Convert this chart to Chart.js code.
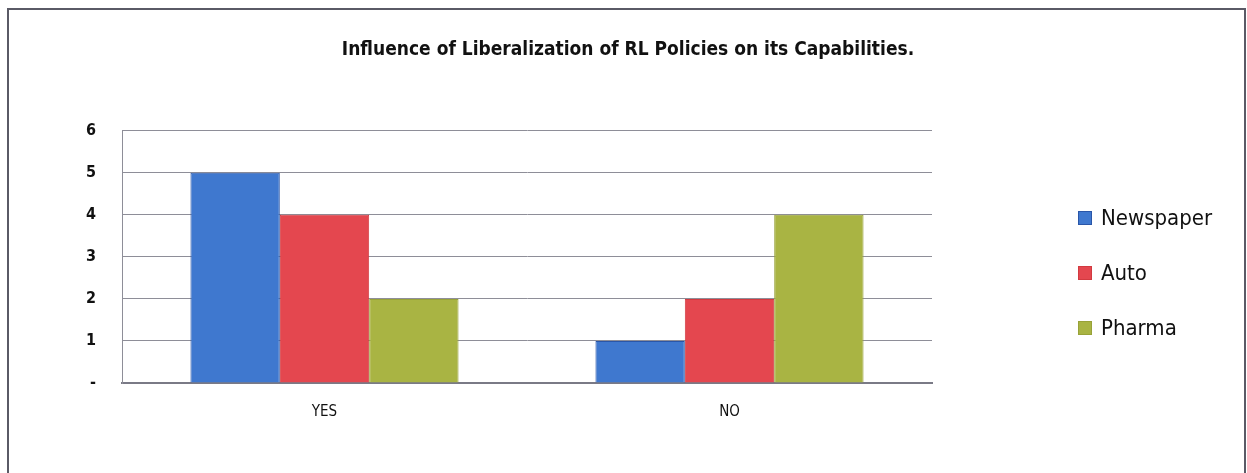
<!DOCTYPE html>
<html>
<head>
<meta charset="utf-8">
<script src="https://cdn.jsdelivr.net/npm/chart.js@4"></script>
<style>
  html, body { margin: 0; padding: 0; background: #ffffff; }
  #wrap { position: relative; width: 1247px; height: 473px; overflow: hidden; }
  #frame {
    position: absolute; left: 7px; top: 8px; width: 1239px; height: 480px;
    border: 2px solid #5a5a66; box-sizing: border-box;
  }
  canvas { position: absolute; left: 0; top: 0; }
</style>
</head>
<body>
<div id="wrap">
  <div id="frame"></div>
  <canvas id="chart" width="1247" height="473"></canvas>
</div>
<script>
// Survey responses: does liberalization of RL policies influence capabilities?
const categories = ['YES', 'NO'];
const newspaper = [5, 1];
const auto = [4, 2];
const pharma = [2, 4];
const yTicks = [0, 1, 2, 3, 4, 5, 6];

const seriesNames = ['Newspaper', 'Auto', 'Pharma'];
const fillColors = ['#3f78cf', '#e4474f', '#a9b443'];
const edgeColors = ['#2a56a8', '#d23a40', '#98a238'];

const FONT = "'Liberation Sans Narrow', 'DejaVu Sans Condensed', 'Open Sans', sans-serif";

// Legend drawn beside the plot, one swatch per dataset
const sideLegend = {
  id: 'sideLegend',
  afterDraw(chart) {
    const ctx = chart.ctx;
    const x0 = 1078, y0 = 218, step = 55, box = 14;
    ctx.save();
    ctx.font = "22px " + FONT;
    ctx.textBaseline = 'middle';
    chart.data.datasets.forEach((ds, i) => {
      const y = y0 + i * step;
      ctx.fillStyle = ds.backgroundColor;
      ctx.fillRect(x0, y - box / 2, box, box);
      ctx.strokeStyle = ds.borderColor;
      ctx.lineWidth = 1;
      ctx.strokeRect(x0 + 0.5, y - box / 2 + 0.5, box - 1, box - 1);
      ctx.fillStyle = '#111111';
      ctx.fillText(ds.label, x0 + 23, y + 1);
    });
    ctx.restore();
  }
};

const datasets = [newspaper, auto, pharma].map((vals, i) => ({
  label: seriesNames[i],
  data: vals,
  backgroundColor: fillColors[i],
  borderColor: edgeColors[i],
  borderWidth: 1,
  barPercentage: 1.0,
  categoryPercentage: 0.662
}));

new Chart(document.getElementById('chart'), {
  type: 'bar',
  data: { labels: categories, datasets },
  options: {
    responsive: false,
    animation: false,
    layout: { padding: { left: 9, right: 0, top: 39, bottom: 0 } },
    plugins: {
      legend: { display: false },
      tooltip: { enabled: false },
      title: {
        display: true,
        text: 'Influence of Liberalization of RL Policies on its Capabilities.',
        color: '#111111',
        font: { family: FONT, size: 19, weight: 'bold' },
        padding: { top: 0, bottom: 69 }
      }
    },
    scales: {
      x: {
        grid: { display: false, drawTicks: false },
        border: { display: true, color: '#7a7a86', width: 2 },
        ticks: {
          color: '#111111',
          font: { family: FONT, size: 15 },
          padding: 20
        },
        afterFit(scale) { scale.height = 90; }
      },
      y: {
        min: 0,
        max: 6,
        afterBuildTicks(scale) { scale.ticks = yTicks.map(v => ({ value: v })); },
        grid: { color: '#8e8e98', lineWidth: 1, drawTicks: false },
        border: { display: true, color: '#8e8e98', width: 1 },
        ticks: {
          color: '#111111',
          font: { family: FONT, size: 16, weight: 'bold' },
          padding: 26,
          callback: v => (v === 0 ? '-' : String(v))
        },
        afterFit(scale) { scale.width = 113; }
      },
      // empty right-hand axis reserving room for the legend column
      side: {
        type: 'linear',
        position: 'right',
        display: true,
        grid: { display: false, drawTicks: false },
        border: { display: false },
        ticks: { display: false },
        afterFit(scale) { scale.width = 315; }
      }
    }
  },
  plugins: [sideLegend]
});
</script>
</body>
</html>
